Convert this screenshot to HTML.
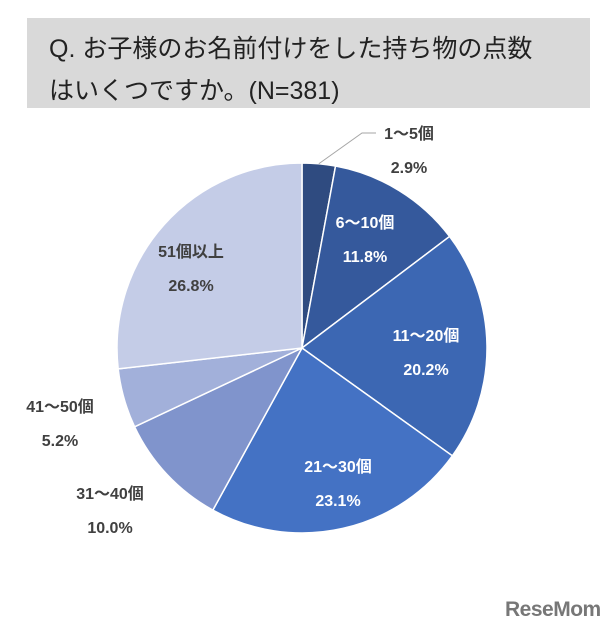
<!DOCTYPE html>
<html><head><meta charset="utf-8"><style>
body{margin:0;background:#fff;width:614px;height:639px;overflow:hidden;font-family:"Liberation Sans","Noto Sans CJK JP",sans-serif}
#title{position:absolute;left:27px;top:18px;width:563px;height:90px;background:#d9d9d9}
#title div{position:absolute;left:22px;font-size:25px;color:#222;white-space:nowrap}
</style></head><body>
<div id="title">
<div style="top:11px">Q.&nbsp;お子様のお名前付けをした持ち物の点数</div>
<div style="top:53px">はいくつですか。(N=381)</div>
</div>
<svg id="chart" width="614" height="639" style="position:absolute;left:0;top:0"></svg>
<div style="position:absolute;left:505px;top:598px;font-size:21px;font-weight:bold;color:#777;letter-spacing:-0.5px">ReseMom</div>
<script>
const categories=["1～5個","6～10個","11～20個","21～30個","31～40個","41～50個","51個以上"];
const values=[2.9,11.8,20.2,23.1,10.0,5.2,26.8];
const labels=["2.9%","11.8%","20.2%","23.1%","10.0%","5.2%","26.8%"];
const colors=["#2f4b80","#35599c","#3c67b3","#4472c4","#8094cc","#a2b0da","#c4cce7"];
const labelColor=["#404040","#fff","#fff","#fff","#404040","#404040","#404040"];
const labelPos=[[409,150],[365,239],[426,352],[338,483],[110,510],[60,423],[191,268]];
const svg=document.getElementById('chart');
const NS="http://www.w3.org/2000/svg";
const cx=302,cy=348,r=185;
const total=values.reduce((a,b)=>a+b,0);
function pt(a,rr){return [cx+rr*Math.sin(a),cy-rr*Math.cos(a)];}
let acc=0;
values.forEach((v,i)=>{
 const a0=acc/total*2*Math.PI; acc+=v; const a1=acc/total*2*Math.PI;
 const p0=pt(a0,r),p1=pt(a1,r);
 const p=document.createElementNS(NS,'path');
 p.setAttribute('d',`M${cx},${cy}L${p0[0]},${p0[1]}A${r},${r} 0 ${a1-a0>Math.PI?1:0} 1 ${p1[0]},${p1[1]}Z`);
 p.setAttribute('fill',colors[i]);p.setAttribute('stroke','#fff');p.setAttribute('stroke-width','1.5');
 
 
 svg.appendChild(p);
 const am=(a0+a1)/2;
 if(i===0){
  const ln=document.createElementNS(NS,'polyline');const e=pt(am,r);
  ln.setAttribute('points',`${e[0]},${e[1]} 362,133 376,133`);ln.setAttribute('fill','none');ln.setAttribute('stroke','#a6a6a6');
  
  
  svg.appendChild(ln);}
 const lp=labelPos[i];
 [categories[i],labels[i]].forEach((t,k)=>{
  const tx=document.createElementNS(NS,'text');
  tx.setAttribute('x',lp[0]);tx.setAttribute('y',lp[1]+(k?23:-11));
  tx.setAttribute('text-anchor','middle');tx.setAttribute('font-size','16');tx.setAttribute('font-weight','bold');
  tx.setAttribute('fill',labelColor[i]);tx.textContent=t;
  
  
  svg.appendChild(tx);
 });
});
</script>
</body></html>
